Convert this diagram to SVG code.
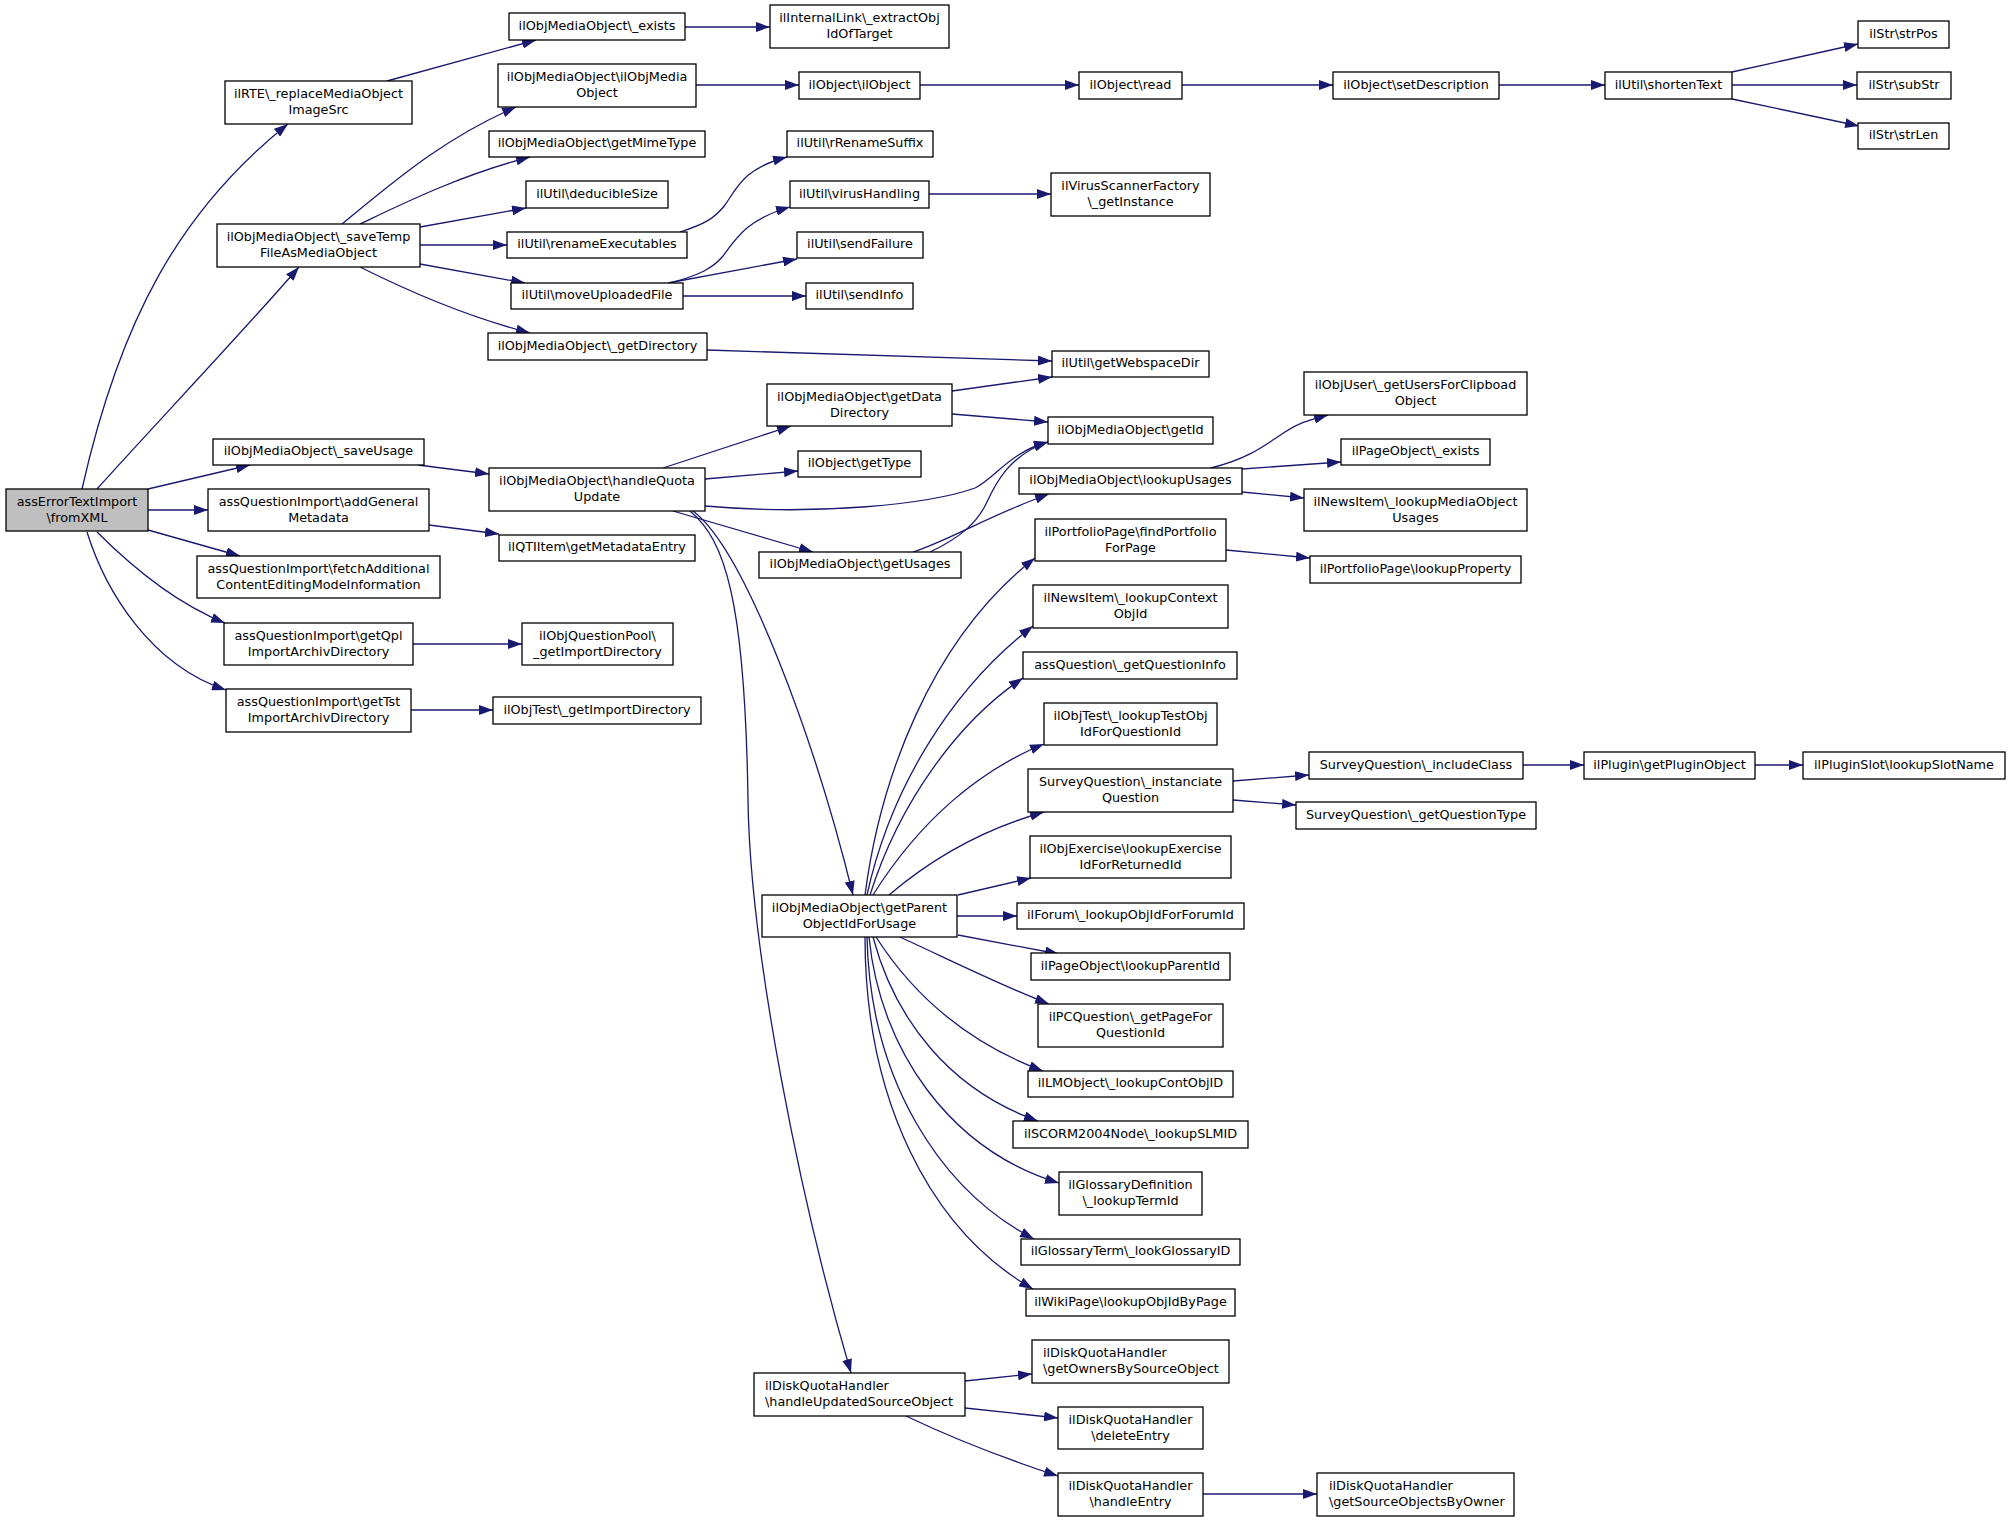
<svg xmlns="http://www.w3.org/2000/svg" width="2011" height="1521" viewBox="0 0 2011 1521">
<style>
.n rect{fill:#ffffff;stroke:#000000;stroke-width:1.3}
.n.root rect{fill:#bfbfbf}
text{font-family:"DejaVu Sans","Liberation Sans",sans-serif;font-size:12.8px;fill:#000000;text-anchor:middle}
text.l{text-anchor:start}
.e path{fill:none;stroke:#191970;stroke-width:1.3;marker-end:url(#a)}
</style>
<defs>
<marker id="a" markerUnits="userSpaceOnUse" viewBox="0 0 14 10" markerWidth="14" markerHeight="10" refX="14" refY="5" orient="auto">
<path d="M0,0 L14,5 L0,10 z" fill="#191970"/>
</marker>
</defs>
<rect width="2011" height="1521" fill="#ffffff"/>
<g id="edges" class="e">
<path d="M82,489 C120,320 180,210 288,124"/>
<path d="M97,489 C150,430 240,335 299,267"/>
<path d="M148,489 L250,465"/>
<path d="M148,510 L208,510"/>
<path d="M148,530 L240,556"/>
<path d="M97,532 C135,570 180,605 225,623"/>
<path d="M87,532 C105,590 150,665 226,690"/>
<path d="M387,81 L536,40"/>
<path d="M342,224 C390,185 440,140 516,107"/>
<path d="M360,224 C400,205 460,175 530,157"/>
<path d="M420,227 L526,208"/>
<path d="M420,245 L507,245"/>
<path d="M420,264 L525,283"/>
<path d="M360,267 C400,287 460,315 530,333"/>
<path d="M685,27 L770,27"/>
<path d="M696,85 L799,85"/>
<path d="M920,85 L1079,85"/>
<path d="M1182,85 L1333,85"/>
<path d="M1499,85 L1605,85"/>
<path d="M1732,72 L1858,44"/>
<path d="M1732,85 L1857,85"/>
<path d="M1732,99 L1859,126"/>
<path d="M680,232 C705,224 715,218 725,205 C738,186 745,168 787,157"/>
<path d="M670,283 C700,275 713,268 723,256 C737,237 748,219 790,207"/>
<path d="M668,283 L797,259"/>
<path d="M683,296 L806,296"/>
<path d="M929,194 L1051,194"/>
<path d="M707,350 L1052,361"/>
<path d="M952,391 L1052,377"/>
<path d="M952,414 L1048,422"/>
<path d="M663,468 L791,426"/>
<path d="M705,479 L798,471"/>
<path d="M705,506 C820,516 930,504 975,488 C995,478 1010,452 1048,442"/>
<path d="M930,552 C962,537 977,522 986,504 C996,482 1010,455 1048,442"/>
<path d="M913,552 C950,540 990,515 1049,494"/>
<path d="M673,511 L813,552"/>
<path d="M693,511 C745,550 815,740 853,895"/>
<path d="M690,511 C725,540 745,600 748,800 C750,950 800,1200 851,1373"/>
<path d="M865,895 C880,780 930,640 1035,558"/>
<path d="M867,895 C890,790 950,690 1033,626"/>
<path d="M870,895 C900,800 960,720 1023,678"/>
<path d="M873,895 C920,820 980,770 1044,744"/>
<path d="M889,895 C930,860 980,830 1044,812"/>
<path d="M958,895 L1031,878"/>
<path d="M957,916 L1017,916"/>
<path d="M958,935 L1059,954"/>
<path d="M900,937 C950,960 1000,985 1049,1004"/>
<path d="M876,937 C910,990 960,1040 1043,1071"/>
<path d="M873,937 C895,1020 950,1090 1038,1121"/>
<path d="M869,937 C880,1050 950,1150 1059,1183"/>
<path d="M867,937 C870,1080 940,1190 1034,1239"/>
<path d="M865,937 C865,1100 930,1230 1033,1289"/>
<path d="M1211,468 C1250,458 1265,445 1285,432 C1300,422 1310,420 1328,415"/>
<path d="M1242,469 L1341,462"/>
<path d="M1242,492 L1304,498"/>
<path d="M1226,550 L1310,558"/>
<path d="M1233,781 L1309,775"/>
<path d="M1233,800 L1296,805"/>
<path d="M1523,765 L1584,765"/>
<path d="M1755,765 L1803,765"/>
<path d="M965,1381 L1032,1374"/>
<path d="M965,1408 L1058,1418"/>
<path d="M906,1416 C950,1437 1000,1457 1058,1476"/>
<path d="M1203,1494 L1317,1494"/>
<path d="M413,644 L522,644"/>
<path d="M411,710 L493,710"/>
<path d="M429,525 L499,534"/>
<path d="M418,465 L489,474"/>
</g>
<g id="n_root" class="n root"><rect x="6" y="489" width="142" height="42"/><text x="77" y="505.5">assErrorTextImport</text><text x="77" y="521.5">\fromXML</text></g>
<g id="n_rte" class="n"><rect x="225" y="81" width="187" height="43"/><text x="318.5" y="98">ilRTE\_replaceMediaObject</text><text x="318.5" y="114">ImageSrc</text></g>
<g id="n_savetemp" class="n"><rect x="217" y="224" width="203" height="43"/><text x="318.5" y="241">ilObjMediaObject\_saveTemp</text><text x="318.5" y="257">FileAsMediaObject</text></g>
<g id="n_saveusage" class="n"><rect x="213" y="439" width="211" height="26"/><text x="318.5" y="455.2">ilObjMediaObject\_saveUsage</text></g>
<g id="n_addgeneral" class="n"><rect x="208" y="489" width="221" height="42"/><text x="318.5" y="505.5">assQuestionImport\addGeneral</text><text x="318.5" y="521.5">Metadata</text></g>
<g id="n_fetch" class="n"><rect x="197" y="556" width="243" height="42"/><text x="318.5" y="572.5">assQuestionImport\fetchAdditional</text><text x="318.5" y="588.5">ContentEditingModeInformation</text></g>
<g id="n_getqpl" class="n"><rect x="224" y="623" width="189" height="42"/><text x="318.5" y="639.5">assQuestionImport\getQpl</text><text x="318.5" y="655.5">ImportArchivDirectory</text></g>
<g id="n_gettst" class="n"><rect x="226" y="689" width="185" height="43"/><text x="318.5" y="706">assQuestionImport\getTst</text><text x="318.5" y="722">ImportArchivDirectory</text></g>
<g id="n_exists" class="n"><rect x="509" y="13" width="176" height="27"/><text x="597" y="29.7">ilObjMediaObject\_exists</text></g>
<g id="n_internallink" class="n"><rect x="770" y="5" width="179" height="43"/><text x="859.5" y="22">ilInternalLink\_extractObj</text><text x="859.5" y="38">IdOfTarget</text></g>
<g id="n_mediactor" class="n"><rect x="498" y="64" width="198" height="43"/><text x="597" y="81">ilObjMediaObject\ilObjMedia</text><text x="597" y="97">Object</text></g>
<g id="n_ilobject" class="n"><rect x="799" y="72" width="121" height="27"/><text x="859.5" y="88.7">ilObject\ilObject</text></g>
<g id="n_read" class="n"><rect x="1079" y="72" width="103" height="27"/><text x="1130.5" y="88.7">ilObject\read</text></g>
<g id="n_setdesc" class="n"><rect x="1333" y="72" width="166" height="27"/><text x="1416" y="88.7">ilObject\setDescription</text></g>
<g id="n_shorten" class="n"><rect x="1605" y="72" width="127" height="27"/><text x="1668.5" y="88.7">ilUtil\shortenText</text></g>
<g id="n_strpos" class="n"><rect x="1858" y="21" width="91" height="27"/><text x="1903.5" y="37.7">ilStr\strPos</text></g>
<g id="n_substr" class="n"><rect x="1857" y="72" width="94" height="27"/><text x="1904" y="88.7">ilStr\subStr</text></g>
<g id="n_strlen" class="n"><rect x="1858" y="123" width="91" height="26"/><text x="1903.5" y="139.2">ilStr\strLen</text></g>
<g id="n_mimetype" class="n"><rect x="489" y="131" width="216" height="26"/><text x="597" y="147.2">ilObjMediaObject\getMimeType</text></g>
<g id="n_rrename" class="n"><rect x="787" y="131" width="146" height="26"/><text x="860" y="147.2">ilUtil\rRenameSuffix</text></g>
<g id="n_deducible" class="n"><rect x="526" y="181" width="142" height="27"/><text x="597" y="197.7">ilUtil\deducibleSize</text></g>
<g id="n_virus" class="n"><rect x="790" y="181" width="139" height="27"/><text x="859.5" y="197.7">ilUtil\virusHandling</text></g>
<g id="n_virusfactory" class="n"><rect x="1051" y="173" width="159" height="43"/><text x="1130.5" y="190">ilVirusScannerFactory</text><text x="1130.5" y="206">\_getInstance</text></g>
<g id="n_renameexec" class="n"><rect x="507" y="232" width="180" height="26"/><text x="597" y="248.2">ilUtil\renameExecutables</text></g>
<g id="n_sendfailure" class="n"><rect x="797" y="232" width="126" height="26"/><text x="860" y="248.2">ilUtil\sendFailure</text></g>
<g id="n_moveupl" class="n"><rect x="511" y="283" width="172" height="26"/><text x="597" y="299.2">ilUtil\moveUploadedFile</text></g>
<g id="n_sendinfo" class="n"><rect x="806" y="283" width="107" height="26"/><text x="859.5" y="299.2">ilUtil\sendInfo</text></g>
<g id="n_getdir" class="n"><rect x="488" y="333" width="219" height="27"/><text x="597.5" y="349.7">ilObjMediaObject\_getDirectory</text></g>
<g id="n_webspace" class="n"><rect x="1052" y="351" width="157" height="26"/><text x="1130.5" y="367.2">ilUtil\getWebspaceDir</text></g>
<g id="n_datadir" class="n"><rect x="767" y="384" width="185" height="42"/><text x="859.5" y="400.5">ilObjMediaObject\getData</text><text x="859.5" y="416.5">Directory</text></g>
<g id="n_getid" class="n"><rect x="1048" y="417" width="165" height="27"/><text x="1130.5" y="433.7">ilObjMediaObject\getId</text></g>
<g id="n_gettype" class="n"><rect x="798" y="451" width="123" height="26"/><text x="859.5" y="467.2">ilObject\getType</text></g>
<g id="n_quota" class="n"><rect x="489" y="468" width="216" height="43"/><text x="597" y="485">ilObjMediaObject\handleQuota</text><text x="597" y="501">Update</text></g>
<g id="n_lookupusages" class="n"><rect x="1019" y="468" width="223" height="26"/><text x="1130.5" y="484.2">ilObjMediaObject\lookupUsages</text></g>
<g id="n_objuser" class="n"><rect x="1304" y="372" width="223" height="43"/><text x="1415.5" y="389">ilObjUser\_getUsersForClipboad</text><text x="1415.5" y="405">Object</text></g>
<g id="n_pageexists" class="n"><rect x="1341" y="439" width="149" height="26"/><text x="1415.5" y="455.2">ilPageObject\_exists</text></g>
<g id="n_newsmedia" class="n"><rect x="1304" y="489" width="223" height="42"/><text x="1415.5" y="505.5">ilNewsItem\_lookupMediaObject</text><text x="1415.5" y="521.5">Usages</text></g>
<g id="n_getusages" class="n"><rect x="759" y="552" width="202" height="26"/><text x="860" y="568.2">ilObjMediaObject\getUsages</text></g>
<g id="n_qtiitem" class="n"><rect x="499" y="535" width="196" height="26"/><text x="597" y="551.2">ilQTIItem\getMetadataEntry</text></g>
<g id="n_qpool" class="n"><rect x="522" y="623" width="151" height="42"/><text x="597.5" y="639.5">ilObjQuestionPool\</text><text x="597.5" y="655.5">_getImportDirectory</text></g>
<g id="n_testimport" class="n"><rect x="493" y="697" width="208" height="27"/><text x="597" y="713.7">ilObjTest\_getImportDirectory</text></g>
<g id="n_findportfolio" class="n"><rect x="1035" y="519" width="191" height="42"/><text x="1130.5" y="535.5">ilPortfolioPage\findPortfolio</text><text x="1130.5" y="551.5">ForPage</text></g>
<g id="n_lookupprop" class="n"><rect x="1310" y="556" width="211" height="27"/><text x="1415.5" y="572.7">ilPortfolioPage\lookupProperty</text></g>
<g id="n_newscontext" class="n"><rect x="1033" y="585" width="195" height="43"/><text x="1130.5" y="602">ilNewsItem\_lookupContext</text><text x="1130.5" y="618">ObjId</text></g>
<g id="n_qinfo" class="n"><rect x="1023" y="652" width="214" height="27"/><text x="1130" y="668.7">assQuestion\_getQuestionInfo</text></g>
<g id="n_testobj" class="n"><rect x="1044" y="703" width="173" height="42"/><text x="1130.5" y="719.5">ilObjTest\_lookupTestObj</text><text x="1130.5" y="735.5">IdForQuestionId</text></g>
<g id="n_instanciate" class="n"><rect x="1028" y="769" width="205" height="43"/><text x="1130.5" y="786">SurveyQuestion\_instanciate</text><text x="1130.5" y="802">Question</text></g>
<g id="n_includeclass" class="n"><rect x="1309" y="752" width="214" height="27"/><text x="1416" y="768.7">SurveyQuestion\_includeClass</text></g>
<g id="n_plugin" class="n"><rect x="1584" y="752" width="171" height="27"/><text x="1669.5" y="768.7">ilPlugin\getPluginObject</text></g>
<g id="n_slot" class="n"><rect x="1803" y="752" width="202" height="27"/><text x="1904" y="768.7">ilPluginSlot\lookupSlotName</text></g>
<g id="n_qtype" class="n"><rect x="1296" y="802" width="240" height="27"/><text x="1416" y="818.7">SurveyQuestion\_getQuestionType</text></g>
<g id="n_exercise" class="n"><rect x="1030" y="836" width="201" height="42"/><text x="1130.5" y="852.5">ilObjExercise\lookupExercise</text><text x="1130.5" y="868.5">IdForReturnedId</text></g>
<g id="n_forum" class="n"><rect x="1017" y="903" width="227" height="26"/><text x="1130.5" y="919.2">ilForum\_lookupObjIdForForumId</text></g>
<g id="n_parentid" class="n"><rect x="1031" y="953" width="199" height="27"/><text x="1130.5" y="969.7">ilPageObject\lookupParentId</text></g>
<g id="n_pcquestion" class="n"><rect x="1038" y="1004" width="185" height="43"/><text x="1130.5" y="1021">ilPCQuestion\_getPageFor</text><text x="1130.5" y="1037">QuestionId</text></g>
<g id="n_lmobject" class="n"><rect x="1028" y="1071" width="205" height="26"/><text x="1130.5" y="1087.2">ilLMObject\_lookupContObjID</text></g>
<g id="n_scorm" class="n"><rect x="1013" y="1121" width="235" height="27"/><text x="1130.5" y="1137.7">ilSCORM2004Node\_lookupSLMID</text></g>
<g id="n_glossdef" class="n"><rect x="1059" y="1172" width="143" height="43"/><text x="1130.5" y="1189">ilGlossaryDefinition</text><text x="1130.5" y="1205">\_lookupTermId</text></g>
<g id="n_glossterm" class="n"><rect x="1021" y="1239" width="219" height="26"/><text x="1130.5" y="1255.2">ilGlossaryTerm\_lookGlossaryID</text></g>
<g id="n_wiki" class="n"><rect x="1026" y="1289" width="209" height="27"/><text x="1130.5" y="1305.7">ilWikiPage\lookupObjIdByPage</text></g>
<g id="n_getparent" class="n"><rect x="762" y="895" width="195" height="42"/><text x="859.5" y="911.5">ilObjMediaObject\getParent</text><text x="859.5" y="927.5">ObjectIdForUsage</text></g>
<g id="n_handleupdated" class="n"><rect x="754" y="1373" width="211" height="43"/><text class="l" x="765" y="1390">ilDiskQuotaHandler</text><text class="l" x="765" y="1406">\handleUpdatedSourceObject</text></g>
<g id="n_getowners" class="n"><rect x="1032" y="1340" width="197" height="43"/><text class="l" x="1043" y="1357">ilDiskQuotaHandler</text><text class="l" x="1043" y="1373">\getOwnersBySourceObject</text></g>
<g id="n_deleteentry" class="n"><rect x="1058" y="1407" width="145" height="42"/><text x="1130.5" y="1423.5">ilDiskQuotaHandler</text><text x="1130.5" y="1439.5">\deleteEntry</text></g>
<g id="n_handleentry" class="n"><rect x="1058" y="1473" width="145" height="43"/><text x="1130.5" y="1490">ilDiskQuotaHandler</text><text x="1130.5" y="1506">\handleEntry</text></g>
<g id="n_getsource" class="n"><rect x="1317" y="1473" width="197" height="43"/><text class="l" x="1329" y="1490">ilDiskQuotaHandler</text><text class="l" x="1329" y="1506">\getSourceObjectsByOwner</text></g>
</svg>
